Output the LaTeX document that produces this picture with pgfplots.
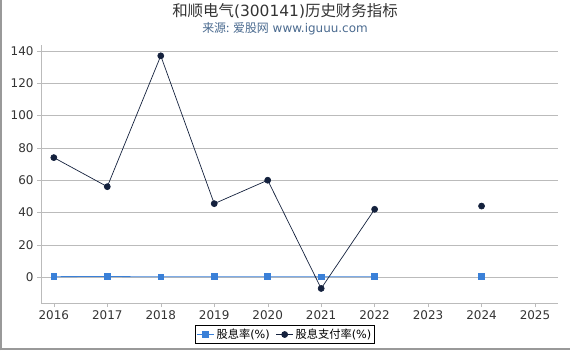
\documentclass[border=0pt]{standalone}
\usepackage{pgfplots}
\pgfplotsset{compat=1.18}
\usepackage{fontspec}
\setmainfont{DejaVu Sans}
\newfontfamily\cjk{Noto Sans CJK SC}
\definecolor{gridc}{HTML}{BBBBBB}
\definecolor{yieldc}{HTML}{3A80D8}
\definecolor{payc}{HTML}{14213D}
\definecolor{titlec}{HTML}{333333}
\definecolor{subc}{HTML}{4A6A8F}
\begin{document}
\begin{tikzpicture}[x=1bp,y=1bp]
\path[use as bounding box] (0,0) rectangle (570,350);
\draw[gray!80, line width=1.2bp] (1,0) -- (1,350);
\draw[gray!80, line width=1.5bp] (0,1) -- (570,1);
\node[text=titlec, font=\fontsize{15.5}{17}\selectfont] at (285,339) {{\cjk 和顺电气}(300141){\cjk 历史财务指标}};
\node[text=subc, font=\fontsize{12}{13}\selectfont] at (285,321) {{\cjk 来源: 爱股网} www.iguuu.com};
\begin{axis}[
  at={(41bp,47bp)}, anchor=south west,
  scale only axis, width=517bp, height=258bp,
  xmin=2015.76, xmax=2025.43,
  ymin=-16, ymax=143.7,
  axis x line*=bottom, axis y line*=left,
  axis line style={gridc},
  xtick={2016,...,2025},
  ytick={0,20,...,140},
  xticklabel style={/pgf/number format/1000 sep={}},
  ymajorgrids, grid style={gridc, line width=0.6bp},
  tick style={gridc},
  major tick length=4bp,
  tick align=outside,
  ticklabel style={font=\fontsize{12}{13}\selectfont, text=titlec},
  /pgf/number format/assume math mode=true,
  unbounded coords=jump,
  legend style={at={(0.472,-0.086)}, anchor=north, legend columns=2, draw=black, line width=0.6bp,
    font=\fontsize{11.3}{12}\selectfont, inner sep=1.5bp, /tikz/every even column/.append style={column sep=4bp}},
  legend cell align=left,
]
\addplot[color=yieldc, line width=0.8bp, mark=square*, mark size=2.8bp, mark options={fill=yieldc, draw=yieldc}]
  coordinates {(2016,0.3) (2017,0.4) (2018,0.2) (2019,0.3) (2020,0.3) (2021,0.2) (2022,0.3) (2023,nan) (2024,0.3)};
\addlegendentry{{\cjk 股息率}(\%)}
\addplot[color=payc, line width=0.7bp, mark=*, mark size=3bp, mark options={fill=payc, draw=payc}]
  coordinates {(2016,74) (2017,56) (2018,137) (2019,45.5) (2020,60) (2021,-7) (2022,42) (2023,nan) (2024,44)};
\addlegendentry{{\cjk 股息支付率}(\%)}
\end{axis}
\end{tikzpicture}
\end{document}
